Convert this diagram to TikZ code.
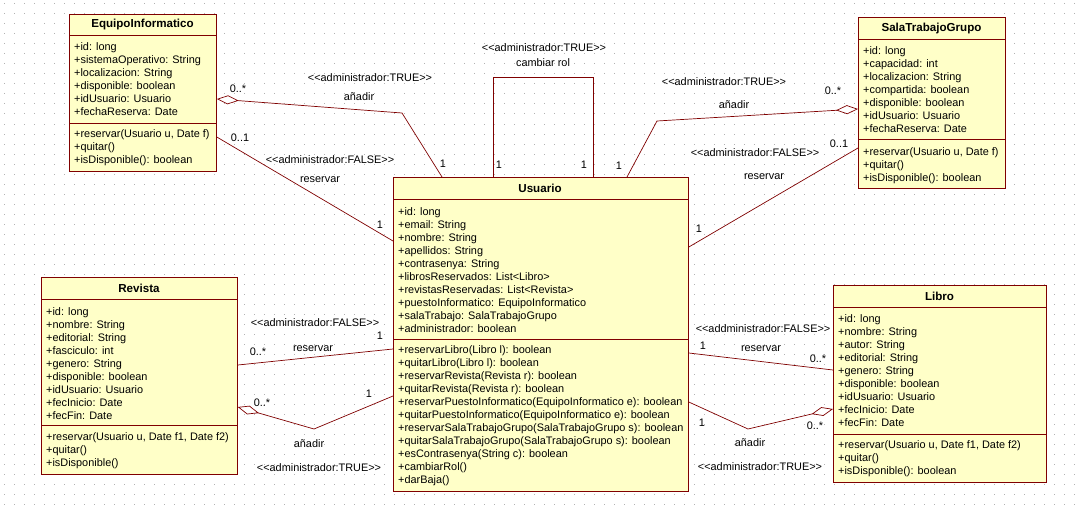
\documentclass[tikz,border=0pt]{standalone}
\usepackage{fontspec}
\setmainfont{Liberation Sans}
\usetikzlibrary{arrows.meta,calc}
\definecolor{umlred}{RGB}{128,0,0}
\definecolor{umlyellow}{RGB}{255,255,200}
\newcommand{\umlfont}{\fontsize{10.9}{13}\selectfont}
\newcommand{\umltitlefont}{\fontsize{11.6}{13}\selectfont\bfseries}
\newcommand{\stereo}[1]{<{}<#1>{}>}

\begin{document}
\begin{tikzpicture}[x=1pt, y=1pt,
  cls/.style={draw=umlred, fill=umlyellow, line width=0.8pt, anchor=north west, inner sep=0},
  ttl/.style={font=\umltitlefont, inner sep=0, anchor=base},
  mem/.style={anchor=north west, align=left, inner sep=0, font=\umlfont},
  sep/.style={draw=umlred, line width=0.8pt},
  lbl/.style={font=\umlfont, inner sep=0},
  assoc/.style={draw=umlred, line width=0.7pt},
  agg/.style={assoc, {Diamond[open, length=22pt, width=9pt, fill=white]}-},
  griddot/.style={draw=black!30, line width=1pt, dash pattern=on 1pt off 9pt, dash phase=6pt}]

  \fill[white] (0,0) rectangle (1075,-508);
  \useasboundingbox (0,0) rectangle (1075,-508);
  \foreach \gy in {0,...,50}
    \draw[griddot] (0,-4-10*\gy) -- (1075,-4-10*\gy);

  % classes
  \node[cls, minimum width=147pt, minimum height=157pt] (equipo) at (69,-14) {};
  \node[ttl] (equipoT) at (142.5,-28) {EquipoInformatico};
  \draw[sep] ($(equipo.north west)+(0,-21)$) -- ($(equipo.north east)+(0,-21)$);
  \node[mem] (equipoA) at (74,-42) {+id: long\\+sistemaOperativo: String\\+localizacion: String\\+disponible: boolean\\+idUsuario: Usuario\\+fechaReserva: Date};
  \draw[sep] ($(equipo.north west)+(0,-109)$) -- ($(equipo.north east)+(0,-109)$);
  \node[mem] (equipoM) at (74,-129) {+reservar(Usuario u, Date f)\\+quitar()\\+isDisponible(): boolean};

  \node[cls, minimum width=147pt, minimum height=171pt] (sala) at (858,-17) {};
  \node[ttl] (salaT) at (931.5,-32) {SalaTrabajoGrupo};
  \draw[sep] ($(sala.north west)+(0,-22)$) -- ($(sala.north east)+(0,-22)$);
  \node[mem] (salaA) at (863,-46) {+id: long\\+capacidad: int\\+localizacion: String\\+compartida: boolean\\+disponible: boolean\\+idUsuario: Usuario\\+fechaReserva: Date};
  \draw[sep] ($(sala.north west)+(0,-122)$) -- ($(sala.north east)+(0,-122)$);
  \node[mem] (salaM) at (863,-147) {+reservar(Usuario u, Date f)\\+quitar()\\+isDisponible(): boolean};

  \node[cls, minimum width=295pt, minimum height=314pt] (usuario) at (393,-177) {};
  \node[ttl] (usuarioT) at (540,-192) {Usuario};
  \draw[sep] ($(usuario.north west)+(0,-22)$) -- ($(usuario.north east)+(0,-22)$);
  \node[mem] (usuarioA) at (398,-207) {+id: long\\+email: String\\+nombre: String\\+apellidos: String\\+contrasenya: String\\+librosReservados: List<Libro>\\+revistasReservadas: List<Revista>\\+puestoInformatico: EquipoInformatico\\+salaTrabajo: SalaTrabajoGrupo\\+administrador: boolean};
  \draw[sep] ($(usuario.north west)+(0,-162)$) -- ($(usuario.north east)+(0,-162)$);
  \node[mem] (usuarioM) at (398,-345) {+reservarLibro(Libro l): boolean\\+quitarLibro(Libro l): boolean\\+reservarRevista(Revista r): boolean\\+quitarRevista(Revista r): boolean\\+reservarPuestoInformatico(EquipoInformatico e): boolean\\+quitarPuestoInformatico(EquipoInformatico e): boolean\\+reservarSalaTrabajoGrupo(SalaTrabajoGrupo s): boolean\\+quitarSalaTrabajoGrupo(SalaTrabajoGrupo s): boolean\\+esContrasenya(String c): boolean\\+cambiarRol()\\+darBaja()};

  \node[cls, minimum width=196pt, minimum height=197pt] (revista) at (41,-277) {};
  \node[ttl] (revistaT) at (139,-292) {Revista};
  \draw[sep] ($(revista.north west)+(0,-22)$) -- ($(revista.north east)+(0,-22)$);
  \node[mem] (revistaA) at (46,-307) {+id: long\\+nombre: String\\+editorial: String\\+fasciculo: int\\+genero: String\\+disponible: boolean\\+idUsuario: Usuario\\+fecInicio: Date\\+fecFin: Date};
  \draw[sep] ($(revista.north west)+(0,-148)$) -- ($(revista.north east)+(0,-148)$);
  \node[mem] (revistaM) at (46,-432) {+reservar(Usuario u, Date f1, Date f2)\\+quitar()\\+isDisponible()};

  \node[cls, minimum width=213pt, minimum height=197pt] (libro) at (833,-285) {};
  \node[ttl] (libroT) at (939.5,-300) {Libro};
  \draw[sep] ($(libro.north west)+(0,-22)$) -- ($(libro.north east)+(0,-22)$);
  \node[mem] (libroA) at (838,-314) {+id: long\\+nombre: String\\+autor: String\\+editorial: String\\+genero: String\\+disponible: boolean\\+idUsuario: Usuario\\+fecInicio: Date\\+fecFin: Date};
  \draw[sep] ($(libro.north west)+(0,-149)$) -- ($(libro.north east)+(0,-149)$);
  \node[mem] (libroM) at (838,-440) {+reservar(Usuario u, Date f1, Date f2)\\+quitar()\\+isDisponible(): boolean};

  % bend points
  \coordinate (equipoB) at (402,-113);
  \coordinate (salaB) at (657,-121);
  \coordinate (revistaB) at (314,-429);
  \coordinate (libroB) at (748,-429);

  % EquipoInformatico
  \draw[agg] ($(equipo.north east)+(0,-85)$) -- (equipoB) -- ($(usuario.north west)+(49,0)$);
  \node[lbl] (eq1) at (238,-89) {0..*};
  \node[lbl] (eq2) at (370,-78) {\stereo{administrador:TRUE}};
  \node[lbl] (eq3) at (359,-97) {añadir};
  \node[lbl] (eq4) at (443,-164) {1};

  \draw[assoc] ($(equipo.north east)+(0,-123)$) -- ($(usuario.north west)+(0,-64)$);
  \node[lbl] (eq5) at (240,-138) {0..1};
  \node[lbl] (eq6) at (330,-160) {\stereo{administrador:FALSE}};
  \node[lbl] (eq7) at (320,-180) {reservar};
  \node[lbl] (eq8) at (380,-225) {1};

  % Usuario
  \draw[assoc] ($(usuario.north west)+(100,0)$) -- ++(0,100) -- ++(100,0) -- ++(0,-100);
  \node[lbl] (us1) at (544,-48) {\stereo{administrador:TRUE}};
  \node[lbl] (us2) at (543,-63) {cambiar rol};
  \node[lbl] (us3) at (499,-165) {1};
  \node[lbl] (us4) at (584,-165) {1};

  % SalaTrabajoGrupo
  \draw[agg] ($(sala.north west)+(0,-92)$) -- (salaB) -- ($(usuario.north west)+(234,0)$);
  \node[lbl] (sa1) at (833,-91) {0..*};
  \node[lbl] (sa2) at (724,-82) {\stereo{administrador:TRUE}};
  \node[lbl] (sa3) at (734,-105) {añadir};
  \node[lbl] (sa4) at (619,-166) {1};

  \draw[assoc] ($(sala.north west)+(0,-131)$) -- ($(usuario.north east)+(0,-70)$);
  \node[lbl] (sa5) at (839,-144) {0..1};
  \node[lbl] (sa6) at (755,-153) {\stereo{administrador:FALSE}};
  \node[lbl] (sa7) at (764,-177) {reservar};
  \node[lbl] (sa8) at (699,-229) {1};

  % Revista
  \draw[assoc] ($(revista.north east)+(0,-88)$) -- ($(usuario.north west)+(0,-172)$);
  \node[lbl] (re1) at (315,-323) {\stereo{administrador:FALSE}};
  \node[lbl] (re2) at (380,-336) {1};
  \node[lbl] (re3) at (258,-352) {0..*};
  \node[lbl] (re4) at (313,-349) {reservar};

  \draw[agg] ($(revista.north east)+(0,-130)$) -- (revistaB) -- ($(usuario.north west)+(0,-219)$);
  \node[lbl] (re5) at (262,-403) {0..*};
  \node[lbl] (re6) at (369,-394) {1};
  \node[lbl] (re7) at (309,-444) {añadir};
  \node[lbl] (re8) at (319,-468) {\stereo{administrador:TRUE}};

  % Libro
  \draw[assoc] ($(usuario.north east)+(0,-176)$) -- ($(libro.north west)+(0,-85)$);
  \node[lbl] (li1) at (763,-329) {\stereo{addministrador:FALSE}};
  \node[lbl] (li2) at (703,-346) {1};
  \node[lbl] (li3) at (761,-349) {reservar};
  \node[lbl] (li4) at (818,-359) {0..*};

  \draw[agg] ($(libro.north west)+(0,-124)$) -- (libroB) -- ($(usuario.north east)+(0,-225)$);
  \node[lbl] (li5) at (702,-423) {1};
  \node[lbl] (li6) at (815,-426) {0..*};
  \node[lbl] (li7) at (750,-443) {añadir};
  \node[lbl] (li8) at (760,-467) {\stereo{administrador:TRUE}};

\end{tikzpicture}
\end{document}
